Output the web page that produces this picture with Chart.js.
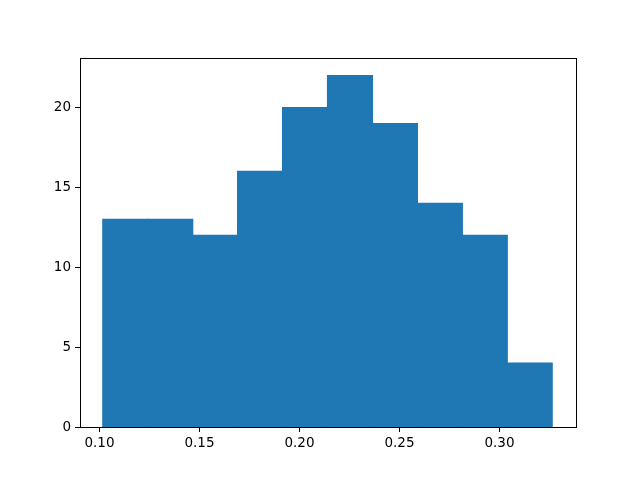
<!DOCTYPE html>
<html>
<head>
<meta charset="utf-8">
<script src="https://cdn.jsdelivr.net/npm/chart.js@4/dist/chart.umd.min.js"></script>
<style>
html,body{margin:0;padding:0;background:#fff;}
#wrap{width:640px;height:480px;}
</style>
</head>
<body>
<div id="wrap"><canvas id="c" width="640" height="480"></canvas></div>
<script>
const binEdges = [0.10165, 0.12412, 0.14659, 0.16906, 0.19153, 0.21400, 0.23647, 0.25894, 0.28141, 0.30388, 0.32635];
const counts = [13, 13, 12, 16, 20, 22, 19, 14, 12, 4];
const xTicks = [0.10, 0.15, 0.20, 0.25, 0.30];
const yTicks = [0, 5, 10, 15, 20];
const xRange = [0.09025, 0.33825];
const yRange = [0, 23.1];

const points = counts.map((c, i) => ({x: (binEdges[i] + binEdges[i + 1]) / 2, y: c}));

const frame = {
  id: 'frame',
  afterDraw(chart) {
    const a = chart.chartArea, ctx = chart.ctx;
    ctx.save();
    ctx.strokeStyle = '#000';
    ctx.lineWidth = 1;
    ctx.strokeRect(Math.round(a.left) + 0.5, Math.round(a.top) + 0.5, Math.round(a.right - a.left), Math.round(a.bottom - a.top));
    ctx.restore();
  }
};

const font = {family: 'DejaVu Sans', size: 13.5};

new Chart(document.getElementById('c'), {
  type: 'bar',
  data: {
    datasets: [{
      data: points,
      backgroundColor: '#1f77b4',
      borderWidth: 0,
      inflateAmount: 0.6,
      barPercentage: 1.0,
      categoryPercentage: 1.0
    }]
  },
  options: {
    responsive: false,
    animation: false,
    layout: {padding: {top: 58, right: 64, left: 0, bottom: 0}},
    plugins: {legend: {display: false}, tooltip: {enabled: false}},
    scales: {
      x: {
        type: 'linear',
        offset: false,
        min: xRange[0], max: xRange[1],
        afterBuildTicks(s) { s.ticks = xTicks.map(v => ({value: v})); },
        afterFit(s) { s.height = 53; },
        grid: {display: true, offset: false, drawOnChartArea: false, drawTicks: true, tickLength: 5, color: '#000', lineWidth: 1},
        border: {display: false},
        ticks: {color: '#000', font, padding: 3, maxRotation: 0, autoSkip: false,
          callback: v => Number(v).toFixed(2)}
      },
      y: {
        min: yRange[0], max: yRange[1],
        afterBuildTicks(s) { s.ticks = yTicks.map(v => ({value: v})); },
        afterFit(s) { s.width = 80; },
        grid: {display: true, offset: false, drawOnChartArea: false, drawTicks: true, tickLength: 5, color: '#000', lineWidth: 1},
        border: {display: false},
        ticks: {color: '#000', font, padding: 4, autoSkip: false, callback: v => String(v)}
      }
    }
  },
  plugins: [frame]
});
</script>
</body>
</html>
